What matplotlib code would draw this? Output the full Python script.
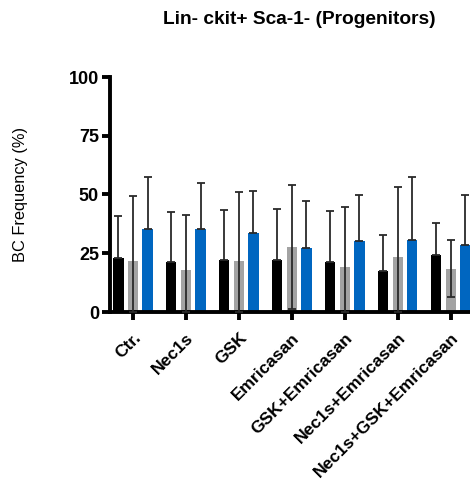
import matplotlib
matplotlib.use("Agg")
import matplotlib.pyplot as plt
import matplotlib.transforms as mtransforms
import numpy as np

plt.rcParams['font.family'] = ['Liberation Sans', 'DejaVu Sans']

categories = ["Ctr.", "Nec1s", "GSK", "Emricasan", "GSK+Emricasan",
              "Nec1s+Emricasan", "Nec1s+GSK+Emricasan"]
black_vals = [22.8, 21.3, 22.0, 22.0, 21.3, 17.6, 24.3]
black_err_top = [40.8, 42.5, 43.5, 44.0, 43.1, 32.8, 38.0]
gray_vals = [21.7, 17.9, 21.7, 27.7, 19.0, 23.3, 18.4]
gray_err_top = [49.4, 41.4, 51.2, 54.0, 44.5, 53.0, 30.6]
blue_vals = [35.2, 35.2, 33.5, 27.2, 30.3, 30.8, 28.6]
blue_err_top = [57.3, 55.0, 51.5, 47.4, 49.9, 57.6, 49.9]
yticks = [0, 25, 50, 75, 100]

W, H = 470, 486
fig = plt.figure(figsize=(W/100, H/100), dpi=100)
ax = fig.add_axes([110/W, (H-312)/H, (W-110)/W, 235/H])

x = np.arange(len(categories))
off = 0.274
bw = 0.19
ecol = '#2a2a2a'

series = [
    (black_vals, black_err_top, '#000000', -off, False),
    (gray_vals, gray_err_top, '#a3a3a3', 0.0, True),
    (blue_vals, blue_err_top, '#0066c0', off, False),
]
for vals, tops, col, o, sym in series:
    vals = np.array(vals); tops = np.array(tops)
    sd = tops - vals
    ax.bar(x + o, vals, width=bw, color=col, linewidth=0, zorder=2)
    lower = np.minimum(sd, vals) if sym else np.zeros_like(sd)
    ax.errorbar(x + o, vals, yerr=[lower, sd], fmt='none', ecolor=ecol,
                elinewidth=1.3, capsize=3, capthick=1.3, zorder=3)

ax.set_xlim(-0.434, 6.36)
ax.set_ylim(0, 100)
ax.set_yticks(yticks)
ax.set_yticklabels([str(t) for t in yticks], fontweight='bold', fontsize=13)
ax.set_xticks(x)
ax.set_xticklabels(categories, rotation=45, ha='right', rotation_mode='anchor',
                   fontweight='bold', fontsize=12.5)
shift = mtransforms.ScaledTranslation(-4/100, 0, fig.dpi_scale_trans)
for lbl in ax.get_xticklabels():
    lbl.set_transform(lbl.get_transform() + shift)
for s in ['top', 'right']:
    ax.spines[s].set_visible(False)
for s in ['left', 'bottom']:
    ax.spines[s].set_linewidth(2.8)
ax.tick_params(axis='both', width=2.8, length=6, direction='out', pad=2)
ax.tick_params(axis='x', pad=7)
ax.set_ylabel("BC Frequency (%)", fontsize=11.8)
ax.yaxis.set_label_coords((28 - 110) / (W - 110), 0.5)
fig.text(299/W, 1 - 19/H, "Lin- ckit+ Sca-1- (Progenitors)", ha='center', va='center',
         fontweight='bold', fontsize=13.8)

fig.savefig("out.png", dpi=100)
